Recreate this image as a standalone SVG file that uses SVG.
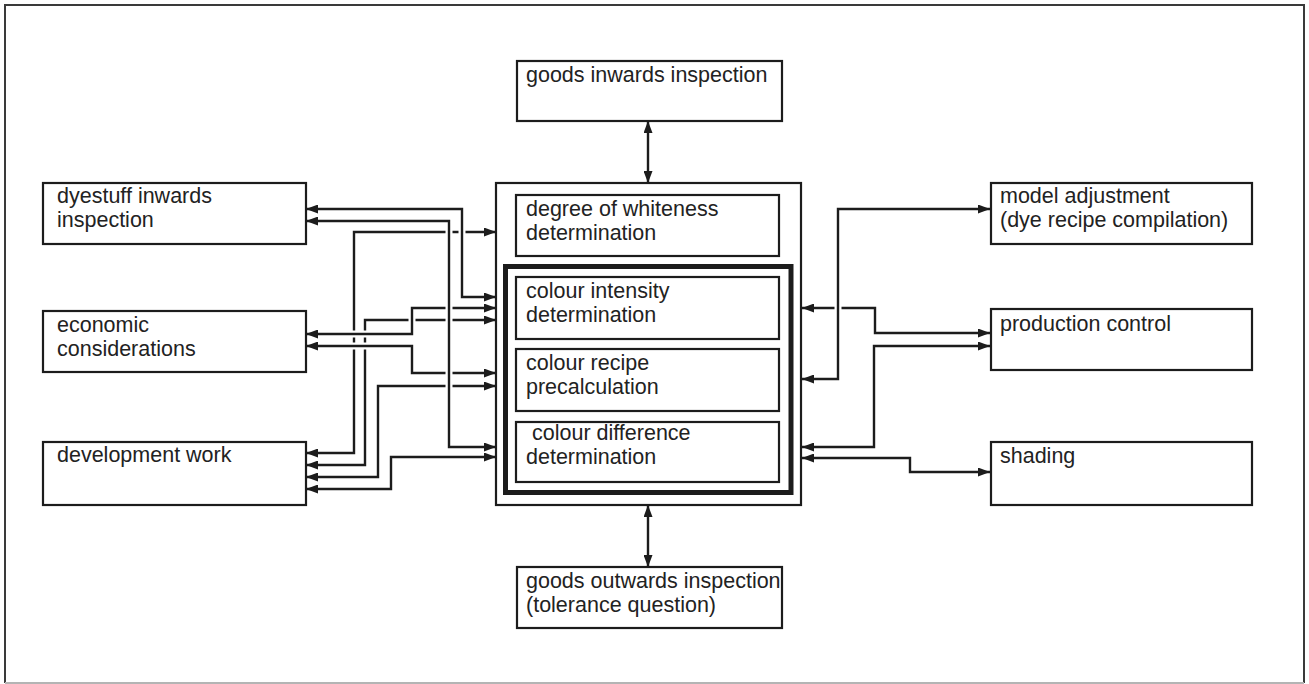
<svg xmlns="http://www.w3.org/2000/svg" width="1309" height="684" viewBox="0 0 1309 684">
  <style>
    .box { fill: #ffffff; stroke: #1c1c1c; stroke-width: 2.2; }
    .thick { fill: none; stroke: #1c1c1c; stroke-width: 5; }
    .lbl { font-family: "Liberation Sans", Arial, Helvetica, sans-serif; font-size: 21.5px; fill: #222222; }
    .conn { fill: none; stroke: #1c1c1c; stroke-width: 2.4; marker-start: url(#head); marker-end: url(#head); }
    .halo { fill: none; stroke: #ffffff; stroke-width: 7; }
  </style>
  <defs>
    <marker id="head" markerUnits="userSpaceOnUse" markerWidth="12" markerHeight="9" refX="12" refY="4.5" orient="auto-start-reverse">
      <path d="M0,0 L12,4.5 L0,9 Z" fill="#1c1c1c"/>
    </marker>
  </defs>

  <rect width="1309" height="684" fill="#ffffff"/>

  <!-- outer frame -->
  <path d="M5,683 V5 H1304 V683" fill="none" stroke="#3a3a3a" stroke-width="2"/>
  <line x1="5" y1="683" x2="1304" y2="683" stroke="#b4b4b4" stroke-width="2"/>

  <!-- central cluster -->
  <g id="centre">
    <rect class="box" x="496" y="183" width="305" height="322"/>
    <rect class="thick" x="505.5" y="266.5" width="285.5" height="226"/>
  </g>
  <g id="whiteness">
    <rect class="box" x="516" y="195" width="263" height="61"/>
    <text class="lbl" x="526" y="216">degree of whiteness</text>
    <text class="lbl" x="526" y="240">determination</text>
  </g>
  <g id="intensity">
    <rect class="box" x="516" y="277" width="263" height="62"/>
    <text class="lbl" x="526" y="298">colour intensity</text>
    <text class="lbl" x="526" y="322">determination</text>
  </g>
  <g id="recipe">
    <rect class="box" x="516" y="349" width="263" height="62"/>
    <text class="lbl" x="526" y="370">colour recipe</text>
    <text class="lbl" x="526" y="394">precalculation</text>
  </g>
  <g id="difference">
    <rect class="box" x="516" y="422" width="263" height="60"/>
    <text class="lbl" x="532" y="440">colour difference</text>
    <text class="lbl" x="526" y="464">determination</text>
  </g>

  <!-- top and bottom -->
  <g id="goods-in">
    <rect class="box" x="517" y="61" width="265" height="60"/>
    <text class="lbl" x="526" y="82">goods inwards inspection</text>
  </g>
  <g id="goods-out">
    <rect class="box" x="517" y="567" width="265" height="61"/>
    <text class="lbl" x="526" y="588">goods outwards inspection</text>
    <text class="lbl" x="526" y="612">(tolerance question)</text>
  </g>

  <!-- left column -->
  <g id="dyestuff">
    <rect class="box" x="43" y="183" width="263" height="61"/>
    <text class="lbl" x="57" y="203">dyestuff inwards</text>
    <text class="lbl" x="57" y="227">inspection</text>
  </g>
  <g id="economic">
    <rect class="box" x="43" y="311" width="263" height="61"/>
    <text class="lbl" x="57" y="332">economic</text>
    <text class="lbl" x="57" y="356">considerations</text>
  </g>
  <g id="development">
    <rect class="box" x="43" y="442" width="263" height="63"/>
    <text class="lbl" x="57" y="462">development work</text>
  </g>

  <!-- right column -->
  <g id="model">
    <rect class="box" x="991" y="183" width="261" height="61"/>
    <text class="lbl" x="1000" y="203">model adjustment</text>
    <text class="lbl" x="1000" y="227">(dye recipe compilation)</text>
  </g>
  <g id="production">
    <rect class="box" x="991" y="309" width="261" height="61"/>
    <text class="lbl" x="1000" y="331">production control</text>
  </g>
  <g id="shading">
    <rect class="box" x="991" y="442" width="261" height="63"/>
    <text class="lbl" x="1000" y="463">shading</text>
  </g>

  <!-- connectors; lines passing over others get a white halo to leave a gap -->
  <g id="connectors">
    <path class="conn" d="M648,121 V183"/>
    <path class="conn" d="M648,505 V567"/>

    <path class="conn" d="M306,453 H354 V232 H496"/>
    <path class="conn" d="M306,465 H365 V320 H496"/>
    <path class="conn" d="M306,477 H378 V386 H496"/>
    <path class="conn" d="M306,489 H391 V457 H496"/>

    <path class="halo" d="M330,334 H404 M412,313 V329"/>
    <path class="conn" d="M306,334 H412 V308 H496"/>
    <path class="halo" d="M330,346 H404"/>
    <path class="conn" d="M306,346 H412 V373 H496"/>

    <path class="halo" d="M449,227 V441"/>
    <path class="conn" d="M306,221 H449 V447 H496"/>
    <path class="halo" d="M462,215 V291"/>
    <path class="conn" d="M306,209 H462 V297 H496"/>

    <path class="conn" d="M802,308 H875 V333 H990"/>
    <path class="conn" d="M802,447 H874 V346 H990"/>
    <path class="conn" d="M802,458 H910 V472 H990"/>
    <path class="halo" d="M838,215 V373"/>
    <path class="conn" d="M802,379 H838 V209 H990"/>
  </g>
</svg>
